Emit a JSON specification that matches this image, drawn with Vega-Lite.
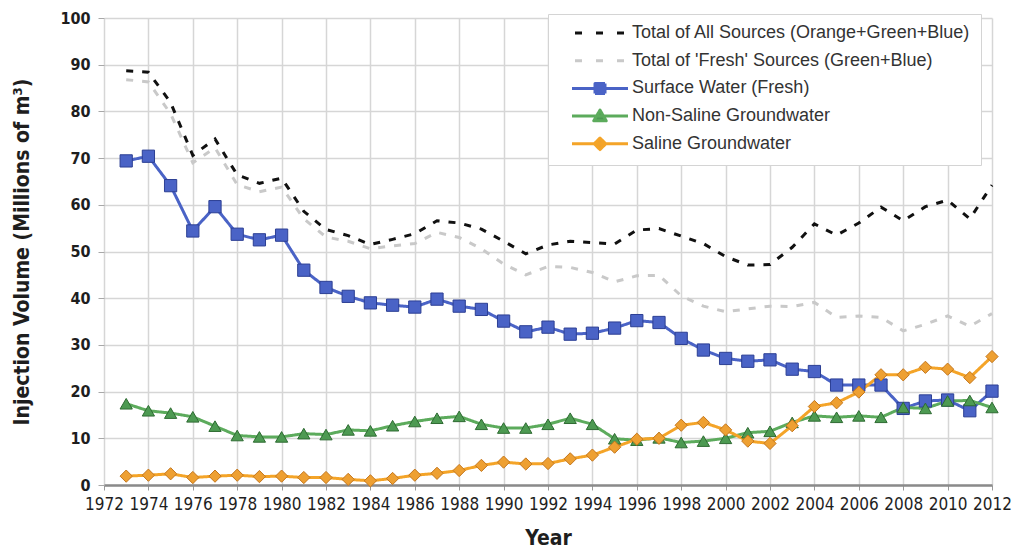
{
  "$schema": "https://vega.github.io/schema/vega-lite/v6.json",
  "width": 888,
  "height": 467,
  "autosize": {"type": "none"},
  "padding": {"left": 104, "top": 18, "right": 22, "bottom": 69},
  "background": "white",
  "config": {
    "view": {"stroke": null},
    "font": "'DejaVu Sans Condensed', 'Liberation Sans Narrow', sans-serif",
    "axis": {
      "gridColor": "#d6d6d6",
      "gridWidth": 1.5,
      "labelFont": "'DejaVu Sans Condensed', 'Liberation Sans Narrow', sans-serif",
      "titleFont": "'DejaVu Sans Condensed', 'Liberation Sans Narrow', sans-serif",
      "labelColor": "#1e1e1e",
      "titleColor": "#1e1e1e"
    }
  },
  "data": {
    "values": [
      {"year":1973,"series":"all","value":88.7},{"year":1973,"series":"fresh","value":86.8},{"year":1973,"series":"surface","value":69.4},{"year":1973,"series":"nonsaline","value":17.4},{"year":1973,"series":"saline","value":1.9},
      {"year":1974,"series":"all","value":88.4},{"year":1974,"series":"fresh","value":86.3},{"year":1974,"series":"surface","value":70.4},{"year":1974,"series":"nonsaline","value":15.9},{"year":1974,"series":"saline","value":2.1},
      {"year":1975,"series":"all","value":81.9},{"year":1975,"series":"fresh","value":79.5},{"year":1975,"series":"surface","value":64.1},{"year":1975,"series":"nonsaline","value":15.4},{"year":1975,"series":"saline","value":2.4},
      {"year":1976,"series":"all","value":70.6},{"year":1976,"series":"fresh","value":69.0},{"year":1976,"series":"surface","value":54.4},{"year":1976,"series":"nonsaline","value":14.6},{"year":1976,"series":"saline","value":1.6},
      {"year":1977,"series":"all","value":74.1},{"year":1977,"series":"fresh","value":72.2},{"year":1977,"series":"surface","value":59.6},{"year":1977,"series":"nonsaline","value":12.6},{"year":1977,"series":"saline","value":1.9},
      {"year":1978,"series":"all","value":66.4},{"year":1978,"series":"fresh","value":64.3},{"year":1978,"series":"surface","value":53.7},{"year":1978,"series":"nonsaline","value":10.6},{"year":1978,"series":"saline","value":2.1},
      {"year":1979,"series":"all","value":64.6},{"year":1979,"series":"fresh","value":62.8},{"year":1979,"series":"surface","value":52.5},{"year":1979,"series":"nonsaline","value":10.3},{"year":1979,"series":"saline","value":1.8},
      {"year":1980,"series":"all","value":65.7},{"year":1980,"series":"fresh","value":63.8},{"year":1980,"series":"surface","value":53.5},{"year":1980,"series":"nonsaline","value":10.3},{"year":1980,"series":"saline","value":1.9},
      {"year":1981,"series":"all","value":58.6},{"year":1981,"series":"fresh","value":57.0},{"year":1981,"series":"surface","value":46.0},{"year":1981,"series":"nonsaline","value":11.0},{"year":1981,"series":"saline","value":1.6},
      {"year":1982,"series":"all","value":54.7},{"year":1982,"series":"fresh","value":53.1},{"year":1982,"series":"surface","value":42.3},{"year":1982,"series":"nonsaline","value":10.8},{"year":1982,"series":"saline","value":1.6},
      {"year":1983,"series":"all","value":53.4},{"year":1983,"series":"fresh","value":52.2},{"year":1983,"series":"surface","value":40.4},{"year":1983,"series":"nonsaline","value":11.8},{"year":1983,"series":"saline","value":1.2},
      {"year":1984,"series":"all","value":51.5},{"year":1984,"series":"fresh","value":50.6},{"year":1984,"series":"surface","value":39.0},{"year":1984,"series":"nonsaline","value":11.6},{"year":1984,"series":"saline","value":0.9},
      {"year":1985,"series":"all","value":52.6},{"year":1985,"series":"fresh","value":51.2},{"year":1985,"series":"surface","value":38.5},{"year":1985,"series":"nonsaline","value":12.7},{"year":1985,"series":"saline","value":1.4},
      {"year":1986,"series":"all","value":53.8},{"year":1986,"series":"fresh","value":51.7},{"year":1986,"series":"surface","value":38.1},{"year":1986,"series":"nonsaline","value":13.6},{"year":1986,"series":"saline","value":2.1},
      {"year":1987,"series":"all","value":56.6},{"year":1987,"series":"fresh","value":54.1},{"year":1987,"series":"surface","value":39.8},{"year":1987,"series":"nonsaline","value":14.3},{"year":1987,"series":"saline","value":2.5},
      {"year":1988,"series":"all","value":56.1},{"year":1988,"series":"fresh","value":53.0},{"year":1988,"series":"surface","value":38.3},{"year":1988,"series":"nonsaline","value":14.7},{"year":1988,"series":"saline","value":3.1},
      {"year":1989,"series":"all","value":54.8},{"year":1989,"series":"fresh","value":50.6},{"year":1989,"series":"surface","value":37.6},{"year":1989,"series":"nonsaline","value":13.0},{"year":1989,"series":"saline","value":4.2},
      {"year":1990,"series":"all","value":52.2},{"year":1990,"series":"fresh","value":47.3},{"year":1990,"series":"surface","value":35.1},{"year":1990,"series":"nonsaline","value":12.2},{"year":1990,"series":"saline","value":4.9},
      {"year":1991,"series":"all","value":49.5},{"year":1991,"series":"fresh","value":45.0},{"year":1991,"series":"surface","value":32.8},{"year":1991,"series":"nonsaline","value":12.2},{"year":1991,"series":"saline","value":4.5},
      {"year":1992,"series":"all","value":51.4},{"year":1992,"series":"fresh","value":46.8},{"year":1992,"series":"surface","value":33.8},{"year":1992,"series":"nonsaline","value":13.0},{"year":1992,"series":"saline","value":4.6},
      {"year":1993,"series":"all","value":52.2},{"year":1993,"series":"fresh","value":46.6},{"year":1993,"series":"surface","value":32.3},{"year":1993,"series":"nonsaline","value":14.3},{"year":1993,"series":"saline","value":5.6},
      {"year":1994,"series":"all","value":51.9},{"year":1994,"series":"fresh","value":45.5},{"year":1994,"series":"surface","value":32.5},{"year":1994,"series":"nonsaline","value":13.0},{"year":1994,"series":"saline","value":6.4},
      {"year":1995,"series":"all","value":51.6},{"year":1995,"series":"fresh","value":43.5},{"year":1995,"series":"surface","value":33.6},{"year":1995,"series":"nonsaline","value":9.9},{"year":1995,"series":"saline","value":8.1},
      {"year":1996,"series":"all","value":54.6},{"year":1996,"series":"fresh","value":44.8},{"year":1996,"series":"surface","value":35.2},{"year":1996,"series":"nonsaline","value":9.6},{"year":1996,"series":"saline","value":9.8},
      {"year":1997,"series":"all","value":54.9},{"year":1997,"series":"fresh","value":44.9},{"year":1997,"series":"surface","value":34.8},{"year":1997,"series":"nonsaline","value":10.1},{"year":1997,"series":"saline","value":10.0},
      {"year":1998,"series":"all","value":53.3},{"year":1998,"series":"fresh","value":40.5},{"year":1998,"series":"surface","value":31.4},{"year":1998,"series":"nonsaline","value":9.1},{"year":1998,"series":"saline","value":12.8},
      {"year":1999,"series":"all","value":51.7},{"year":1999,"series":"fresh","value":38.3},{"year":1999,"series":"surface","value":28.9},{"year":1999,"series":"nonsaline","value":9.4},{"year":1999,"series":"saline","value":13.4},
      {"year":2000,"series":"all","value":48.9},{"year":2000,"series":"fresh","value":37.1},{"year":2000,"series":"surface","value":27.1},{"year":2000,"series":"nonsaline","value":10.0},{"year":2000,"series":"saline","value":11.8},
      {"year":2001,"series":"all","value":47.1},{"year":2001,"series":"fresh","value":37.7},{"year":2001,"series":"surface","value":26.5},{"year":2001,"series":"nonsaline","value":11.2},{"year":2001,"series":"saline","value":9.4},
      {"year":2002,"series":"all","value":47.2},{"year":2002,"series":"fresh","value":38.3},{"year":2002,"series":"surface","value":26.8},{"year":2002,"series":"nonsaline","value":11.5},{"year":2002,"series":"saline","value":8.9},
      {"year":2003,"series":"all","value":50.9},{"year":2003,"series":"fresh","value":38.2},{"year":2003,"series":"surface","value":24.8},{"year":2003,"series":"nonsaline","value":13.4},{"year":2003,"series":"saline","value":12.7},
      {"year":2004,"series":"all","value":55.9},{"year":2004,"series":"fresh","value":39.1},{"year":2004,"series":"surface","value":24.3},{"year":2004,"series":"nonsaline","value":14.8},{"year":2004,"series":"saline","value":16.8},
      {"year":2005,"series":"all","value":53.5},{"year":2005,"series":"fresh","value":35.9},{"year":2005,"series":"surface","value":21.4},{"year":2005,"series":"nonsaline","value":14.5},{"year":2005,"series":"saline","value":17.6},
      {"year":2006,"series":"all","value":56.1},{"year":2006,"series":"fresh","value":36.2},{"year":2006,"series":"surface","value":21.4},{"year":2006,"series":"nonsaline","value":14.8},{"year":2006,"series":"saline","value":19.9},
      {"year":2007,"series":"all","value":59.5},{"year":2007,"series":"fresh","value":35.9},{"year":2007,"series":"surface","value":21.4},{"year":2007,"series":"nonsaline","value":14.5},{"year":2007,"series":"saline","value":23.6},
      {"year":2008,"series":"all","value":56.6},{"year":2008,"series":"fresh","value":33.0},{"year":2008,"series":"surface","value":16.4},{"year":2008,"series":"nonsaline","value":16.6},{"year":2008,"series":"saline","value":23.6},
      {"year":2009,"series":"all","value":59.6},{"year":2009,"series":"fresh","value":34.4},{"year":2009,"series":"surface","value":18.0},{"year":2009,"series":"nonsaline","value":16.4},{"year":2009,"series":"saline","value":25.2},
      {"year":2010,"series":"all","value":61.0},{"year":2010,"series":"fresh","value":36.2},{"year":2010,"series":"surface","value":18.2},{"year":2010,"series":"nonsaline","value":18.0},{"year":2010,"series":"saline","value":24.8},
      {"year":2011,"series":"all","value":57.0},{"year":2011,"series":"fresh","value":34.0},{"year":2011,"series":"surface","value":15.9},{"year":2011,"series":"nonsaline","value":18.1},{"year":2011,"series":"saline","value":23.0},
      {"year":2012,"series":"all","value":64.2},{"year":2012,"series":"fresh","value":36.7},{"year":2012,"series":"surface","value":20.1},{"year":2012,"series":"nonsaline","value":16.6},{"year":2012,"series":"saline","value":27.5}
    ]
  },
  "encoding": {
    "x": {
      "field": "year",
      "type": "quantitative",
      "scale": {"domain": [1972, 2012], "nice": false, "zero": false},
      "axis": {
        "title": "Year",
        "values": [1972,1974,1976,1978,1980,1982,1984,1986,1988,1990,1992,1994,1996,1998,2000,2002,2004,2006,2008,2010,2012],
        "format": "d",
        "labelFontSize": 17,
        "labelPadding": 6,
        "labelFlush": false,
        "labelOverlap": false,
        "domainColor": "#8a8a8a",
        "domainWidth": 2.5,
        "tickColor": "#9a9a9a",
        "tickSize": 5,
        "titleFontSize": 21,
        "titleFontWeight": "bold",
        "titlePadding": 15
      }
    },
    "y": {
      "field": "value",
      "type": "quantitative",
      "scale": {"domain": [0, 100], "nice": false},
      "axis": {
        "title": "Injection Volume (Millions of m³)",
        "values": [0,10,20,30,40,50,60,70,80,90,100],
        "labelFontSize": 16,
        "labelFontWeight": "bold",
        "labelPadding": 8,
        "labelFlush": false,
        "domain": false,
        "tickColor": "#a8a8a8",
        "tickSize": 6,
        "titleFontSize": 21,
        "titleFontWeight": "bold",
        "titlePadding": 27
      }
    }
  },
  "layer": [
    {
      "mark": {"type": "line", "strokeWidth": 3},
      "encoding": {
        "color": {
          "field": "series",
          "type": "nominal",
          "scale": {
            "domain": ["all", "fresh", "surface", "nonsaline", "saline"],
            "range": ["#111111", "#c9c9c9", "#4a63c6", "#5cab5c", "#f4a428"]
          },
          "legend": {
            "title": null,
            "orient": "none",
            "legendX": 444,
            "legendY": -4,
            "padding": 10,
            "fillColor": "white",
            "strokeColor": "#d4d4d4",
            "symbolSize": 100,
            "symbolStrokeWidth": 3,
            "symbolOffset": 33,
            "labelOffset": 23,
            "labelFont": "Liberation Sans",
            "labelFontSize": 18,
            "labelColor": "#333333",
            "labelLimit": 420,
            "rowPadding": 5.7,
            "labelExpr": "datum.value == 'all' ? 'Total of All Sources (Orange+Green+Blue)' : datum.value == 'fresh' ? \"Total of 'Fresh' Sources (Green+Blue)\" : datum.value == 'surface' ? 'Surface Water (Fresh)' : datum.value == 'nonsaline' ? 'Non-Saline Groundwater' : 'Saline Groundwater'",
            "encode": {
              "symbols": {
                "update": {
                  "strokeJoin": {"value": "round"},
                  "shape": {"signal": "['M0,-1.8M0,1.8M-5,0H-3.6M-0.8,0H0.6M3.4,0H4.8', 'M0,-1.8M0,1.8M-5,0H-3.6M-0.8,0H0.6M3.4,0H4.8', 'M0,-1.8M0,1.8M-5.6,0H5.6M-1,-1H1V1H-1Z', 'M0,-1.8M0,1.8M-5.6,0H5.6M0,-1.2L1.25,0.95H-1.25Z', 'M0,-1.8M0,1.8M-5.6,0H5.6M0,-1.15L1.15,0L0,1.15L-1.15,0Z'][indexof(['all','fresh','surface','nonsaline','saline'], datum.value)]"},
                  "fill": {"signal": "['transparent', 'transparent', '#4a63c6', '#4d9a52', '#eea032'][indexof(['all','fresh','surface','nonsaline','saline'], datum.value)]"}
                }
              }
            }
          }
        },
        "strokeDash": {
          "field": "series",
          "type": "nominal",
          "scale": {
            "domain": ["all", "fresh", "surface", "nonsaline", "saline"],
            "range": [[7, 9], [7, 9], [1, 0], [1, 0], [1, 0]]
          },
          "legend": null
        }
      }
    },
    {
      "transform": [{"filter": "datum.series != 'all' && datum.series != 'fresh'"}],
      "mark": {"type": "point", "filled": true, "size": 150, "strokeWidth": 1, "opacity": 1},
      "encoding": {
        "shape": {
          "field": "series",
          "type": "nominal",
          "scale": {"domain": ["surface", "nonsaline", "saline"], "range": ["square", "triangle-up", "diamond"]},
          "legend": null
        },
        "fill": {
          "field": "series",
          "type": "nominal",
          "scale": {"domain": ["surface", "nonsaline", "saline"], "range": ["#4a63c6", "#4d9a52", "#eea032"]},
          "legend": null
        },
        "stroke": {
          "field": "series",
          "type": "nominal",
          "scale": {"domain": ["surface", "nonsaline", "saline"], "range": ["#2c3f94", "#2e6b32", "#c4761c"]},
          "legend": null
        }
      }
    }
  ]
}
